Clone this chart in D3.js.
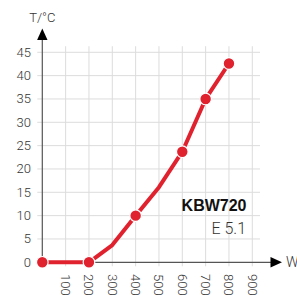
<!DOCTYPE html>
<html>
<head>
<meta charset="utf-8">
<script src="https://cdn.jsdelivr.net/npm/d3@7"></script>
<style>
  body { margin: 0; background: #fff; }
  svg { display: block; font-family: "Liberation Sans", Arial, sans-serif; }
  .light { font-family: Roboto, "Liberation Sans", sans-serif; font-weight: 300; }
</style>
</head>
<body>
<div id="chart"></div>
<script>
// Leistung (W) gegen Temperatur (°C)
var watts = [0, 200, 300, 400, 500, 600, 700, 800];
var temps = [0, 0, 3.7, 10, 16.1, 23.7, 35, 42.6];
var marked = [true, true, false, true, false, true, true, true];
var xTicks = [100, 200, 300, 400, 500, 600, 700, 800, 900];
var yTicks = [0, 5, 10, 15, 20, 25, 30, 35, 40, 45];
var modelName = "KBW720";
var modelSub = "E 5.1";

var width = 297, height = 295;
var red = "#e0222f";

var x = d3.scaleLinear().domain([0, 900]).range([42.3, 252.3]);
var y = d3.scaleLinear().domain([0, 45]).range([262.3, 52.3]);

var svg = d3.select("#chart").append("svg")
    .attr("width", width)
    .attr("height", height);

// Gitter
svg.append("g")
  .selectAll("line")
  .data(xTicks)
  .enter()
  .append("line")
    .attr("x1", function(d) { return x(d); })
    .attr("x2", function(d) { return x(d); })
    .attr("y1", y(46.3))
    .attr("y2", y(0) + 4)
    .style("stroke", "#dcdcdc")
    .style("stroke-width", "1px");

svg.append("g")
  .selectAll("line")
  .data(yTicks.slice(1))
  .enter()
  .append("line")
    .attr("x1", x(0) - 5)
    .attr("x2", x(933))
    .attr("y1", function(d) { return y(d); })
    .attr("y2", function(d) { return y(d); })
    .style("stroke", "#dcdcdc")
    .style("stroke-width", "1px");

// Achsen
svg.append("line")
    .attr("x1", x(0)).attr("x2", x(0))
    .attr("y1", 40).attr("y2", y(0))
    .style("stroke", "#555").style("stroke-width", "1.2px");
svg.append("line")
    .attr("x1", x(0)).attr("x2", 271)
    .attr("y1", y(0)).attr("y2", y(0))
    .style("stroke", "#555").style("stroke-width", "1.2px");

svg.append("path")
    .attr("d", "M" + (x(0) - 5.2) + ",40 L" + (x(0) + 5.2) + ",40 L" + x(0) + ",28.5 Z")
    .style("fill", "#000");
svg.append("path")
    .attr("d", "M270.5," + (y(0) - 5.2) + " L270.5," + (y(0) + 5.2) + " L282," + y(0) + " Z")
    .style("fill", "#000");

svg.append("text")
    .attr("class", "light")
    .attr("x", x(0))
    .attr("y", 21.5)
    .attr("text-anchor", "middle")
    .style("font-size", "13px")
    .style("fill", "#333")
    .text("T/°C");

svg.append("text")
    .attr("class", "light")
    .attr("x", 286)
    .attr("y", y(0) + 5)
    .style("font-size", "14px")
    .style("fill", "#333")
    .text("W");

// Achsenbeschriftung
svg.append("g")
  .selectAll("text")
  .data(yTicks)
  .enter()
  .append("text")
    .attr("class", "light")
    .attr("x", 31)
    .attr("y", function(d) { return y(d) + 4.5; })
    .attr("text-anchor", "end")
    .style("font-size", "13px")
    .style("fill", "#333")
    .text(function(d) { return d; });

svg.append("g")
  .selectAll("text")
  .data(xTicks)
  .enter()
  .append("text")
    .attr("class", "light")
    .attr("transform", function(d) { return "translate(" + (x(d) - 4.5) + "," + 274 + ") rotate(90)"; })
    .style("font-size", "13px")
    .style("fill", "#333")
    .text(function(d) { return d; });

// Kurve
var pts = watts.map(function(w, i) { return {w: w, t: temps[i], m: marked[i]}; });

var line = d3.line()
    .x(function(d) { return x(d.w); })
    .y(function(d) { return y(d.t); });

svg.append("path")
    .datum(pts)
    .attr("d", line)
    .style("fill", "none")
    .style("stroke", red)
    .style("stroke-width", "4px")
    .style("stroke-linejoin", "round");

svg.selectAll("circle")
    .data(pts.filter(function(d) { return d.m; }))
    .enter()
    .append("circle")
    .attr("cx", function(d) { return x(d.w); })
    .attr("cy", function(d) { return y(d.t); })
    .attr("r", 5.8)
    .style("fill", red)
    .style("stroke", "#fff")
    .style("stroke-width", "1.2px");

// Modell
svg.append("text")
    .attr("x", 246.5)
    .attr("y", 211)
    .attr("text-anchor", "end")
    .style("font-size", "16px")
    .style("font-weight", "bold")
    .style("fill", "#111")
    .text(modelName);

svg.append("text")
    .attr("class", "light")
    .attr("x", 246)
    .attr("y", 234)
    .attr("text-anchor", "end")
    .style("font-size", "16px")
    .style("fill", "#333")
    .text(modelSub);
</script>
</body>
</html>
